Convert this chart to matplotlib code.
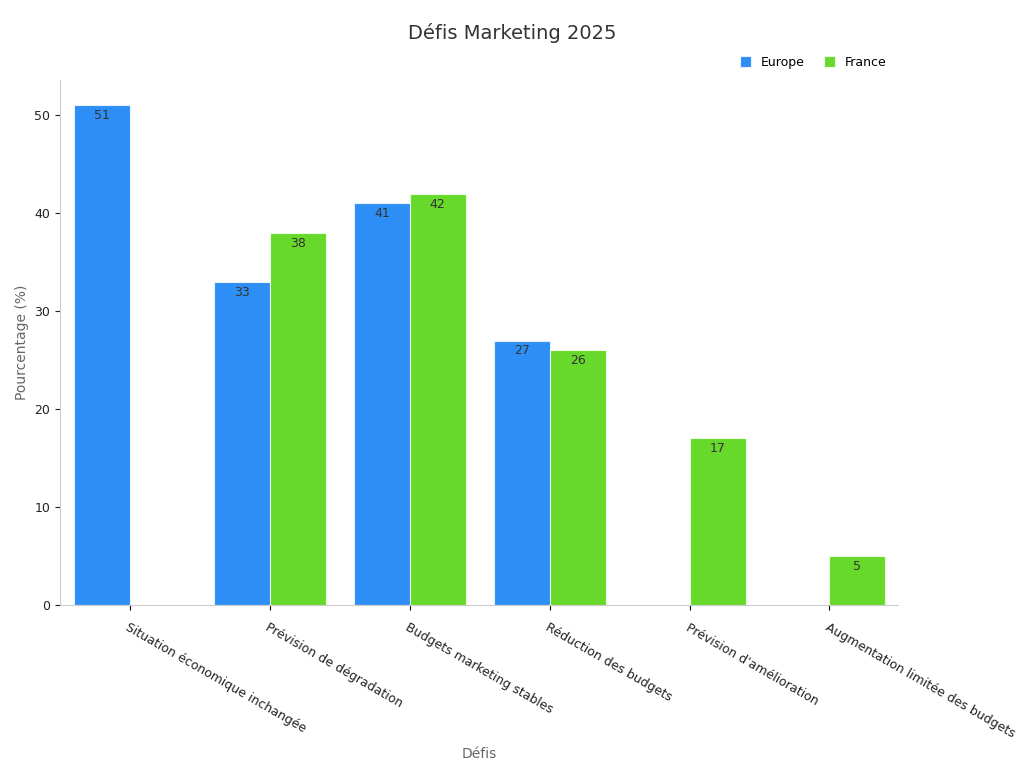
import numpy as np
import matplotlib
matplotlib.use("Agg")
import matplotlib.pyplot as plt

# données
categories = ["Situation économique inchangée", "Prévision de dégradation",
              "Budgets marketing stables", "Réduction des budgets",
              "Prévision d'amélioration", "Augmentation limitée des budgets"]
europe = [51, 33, 41, 27, np.nan, np.nan]
france = [np.nan, 38, 42, 26, 17, 5]

fig = plt.figure(figsize=(10.24, 7.68), dpi=100)
ax = fig.add_axes([60/1024, 1-605/768, (898-60)/1024, (605-80)/768])

x = np.arange(len(categories))
w = 0.4
b1 = ax.bar(x - w, europe, w, align="edge", color="#2d8ff5", edgecolor="#e8f0ff", linewidth=0.8, label="Europe")
b2 = ax.bar(x, france, w, align="edge", color="#66d92a", edgecolor="#e8ffe0", linewidth=0.8, label="France")

for bars, vals in [(b1, europe), (b2, france)]:
    for r, v in zip(bars, vals):
        if np.isnan(v):
            continue
        ax.text(r.get_x() + r.get_width()/2, v - 0.4, str(int(v)), ha="center", va="top",
                fontsize=9, color="#333333")

ax.set_xlim(-0.5, 5.49)
ax.set_ylim(0, 53.6)
ax.set_xticks(x)
ax.set_xticklabels(categories, rotation=-30, ha="left", rotation_mode="anchor", fontsize=9, color="#222222")
ax.set_yticks([0, 10, 20, 30, 40, 50])
ax.tick_params(axis="y", labelsize=9, colors="#222222")
ax.tick_params(axis="x", pad=8)
for s in ["top", "right"]:
    ax.spines[s].set_visible(False)
ax.spines["left"].set_color("#cccccc")
ax.spines["bottom"].set_color("#cccccc")

ax.set_ylabel("Pourcentage (%)", fontsize=10, color="#666666")
ax.set_xlabel("Défis", fontsize=10, color="#666666", labelpad=30)
ax.xaxis.set_label_coords(0.5, -0.27)
fig.suptitle("Défis Marketing 2025", fontsize=14, color="#333333", y=0.97)
ax.legend(loc="lower right", bbox_to_anchor=(1.0, 1.0), ncol=2, frameon=False,
          fontsize=9, handlelength=0.9, handleheight=0.9, columnspacing=1.5)

fig.savefig("out.png", dpi=100)
